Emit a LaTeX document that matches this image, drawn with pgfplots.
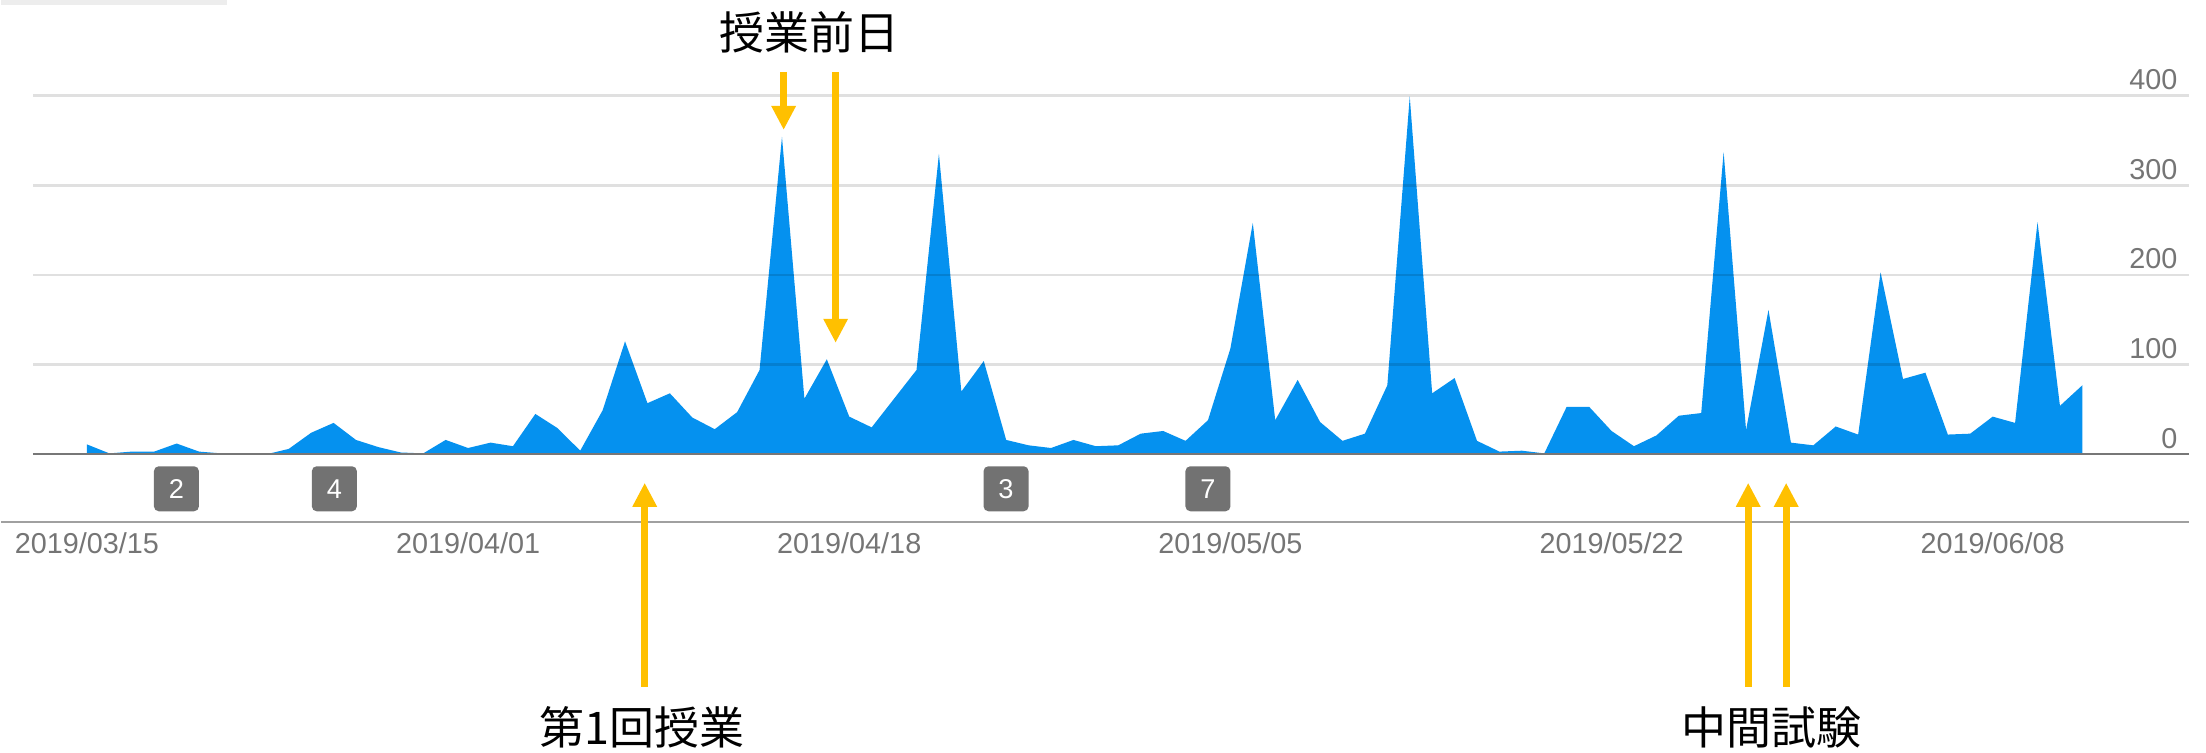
\documentclass[border=0pt]{standalone}
\usepackage{pgfplots}
\pgfplotsset{compat=1.18}
\usetikzlibrary{arrows.meta}
\usepackage{fontspec}
\setmainfont{Liberation Sans}
\newfontfamily\cjk{Noto Sans CJK JP}
\definecolor{gablue}{HTML}{0591EF}
\definecolor{arrowyellow}{HTML}{FFC000}
\definecolor{labelgray}{HTML}{757575}
\definecolor{axisgray}{HTML}{777777}
\definecolor{badgegray}{HTML}{727272}
\definecolor{linegray}{HTML}{A0A0A0}

\begin{document}
\begin{tikzpicture}
\begin{scope}[x=0.25bp,y=-0.25bp]
\useasboundingbox (0,0) rectangle (2206,753);
\fill[black!7] (0,0) rectangle (226,5);
\end{scope}
\begin{axis}[
  at={(8bp,-113.625bp)}, anchor=south west,
  scale only axis, width=539.25bp, height=89.7bp,
  xmin=-2.407, xmax=93.76, ymin=0, ymax=400,
  axis line style={draw=none},
  major tick length=0pt,
  ytick={0,100,200,300,400},
  yticklabel pos=right,
  ymajorgrids,
  grid style={black, opacity=0.12, line width=0.6bp},
  extra y ticks={0}, extra y tick labels={},
  extra y tick style={major grid style={draw=axisgray, opacity=1, line width=0.6bp}},
  xtick={0,17,34,51,68,85},
  xticklabels={2019/03/15,2019/04/01,2019/04/18,2019/05/05,2019/05/22,2019/06/08},
  tick label style={font=\fontsize{7.2bp}{8bp}\selectfont, text=labelgray, inner sep=0pt},
  xticklabel style={anchor=center, yshift=-22.125bp},
  yticklabel style={anchor=south east, xshift=-2.75bp, yshift=1.25bp},
  /pgf/number format/assume math mode=true,
  axis on top,
  clip=false,
]
\addplot[fill=gablue, draw=none] coordinates {
(0,11) (1,1) (2,3) (3,3) (4,12) (5,3) (6,1) (7,0) (8,0) (9,6)
(10,24) (11,35) (12,16) (13,8) (14,2) (15,1) (16,16) (17,7) (18,13) (19,9)
(20,45) (21,29) (22,4) (23,49) (24,126) (25,57) (26,68) (27,41) (28,28) (29,47)
(30,94) (31,354) (32,62) (33,106) (34,42) (35,30) (36,62) (37,94) (38,335) (39,70)
(40,104) (41,16) (42,10) (43,7) (44,16) (45,9) (46,10) (47,23) (48,26) (49,15)
(50,38) (51,118) (52,258) (53,38) (54,83) (55,36) (56,15) (57,23) (58,77) (59,399)
(60,68) (61,85) (62,15) (63,3) (64,4) (65,1) (66,53) (67,53) (68,26) (69,9)
(70,21) (71,43) (72,46) (73,337) (74,27) (75,161) (76,13) (77,10) (78,31) (79,22)
(80,203) (81,84) (82,91) (83,22) (84,23) (85,42) (86,35) (87,259) (88,54) (89,77)
} \closedcycle;
\end{axis}
\begin{scope}[x=0.25bp,y=-0.25bp]
\draw[linegray, line width=0.5bp] (0,522) -- (2189,522);
\foreach \x/\t in {175.5/2, 333.5/4, 1005.5/3, 1207.5/7}
  \node[fill=badgegray, rounded corners=1.2bp, minimum width=11.25bp, minimum height=11.25bp, inner sep=0pt, text=white, font=\fontsize{6.8bp}{8bp}\selectfont] at (\x,489) {\t};
\begin{scope}[arrowyellow, line width=1.75bp, -{Triangle[width=5.75bp,length=6bp]}]
\draw (783,72) -- (783,130);
\draw (835,72) -- (835,343);
\draw (644,687) -- (644,483);
\draw (1748,687) -- (1748,483);
\draw (1786,687) -- (1786,483);
\end{scope}
\node[font=\cjk\fontsize{11.25bp}{12bp}\selectfont, inner sep=0pt] at (809,32) {授業前日};
\node[font=\cjk\fontsize{11.25bp}{12bp}\selectfont, inner sep=0pt] at (641,728) {第1回授業};
\node[font=\cjk\fontsize{11.25bp}{12bp}\selectfont, inner sep=0pt] at (1771,728) {中間試験};
\end{scope}
\end{tikzpicture}
\end{document}
